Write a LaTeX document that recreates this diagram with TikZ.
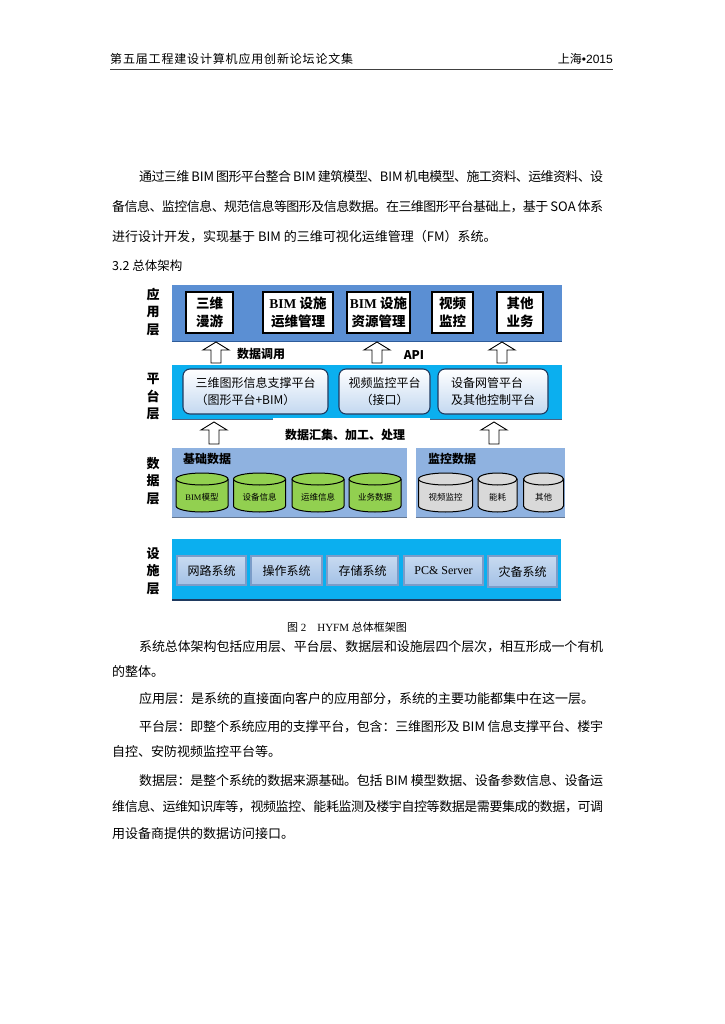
\documentclass[tikz,border=0pt]{standalone}
\usepackage{fontspec}
\setmainfont{Liberation Serif}
\setsansfont{Liberation Sans}
\newfontfamily\cjk{Noto Sans CJK SC}
\ExplSyntaxOn
\bool_new:N \l_spread_first_bool
\NewDocumentCommand \Spread { m m }
 {
  \hbox_to_wd:nn { #1 }
   {
    \bool_set_true:N \l_spread_first_bool
    \tl_map_inline:nn { #2 }
     {
      \bool_if:NF \l_spread_first_bool { \skip_horizontal:n { 0pt plus 1fil minus 2pt } }
      \bool_set_false:N \l_spread_first_bool
      ##1
     }
   }
 }
\ExplSyntaxOff
\definecolor{appblue}{HTML}{5B8FD3}
\definecolor{appedge}{HTML}{2E5C9A}
\definecolor{platcyan}{HTML}{0BAFEF}
\definecolor{datablue}{HTML}{8FB2E0}
\definecolor{cylgreen}{HTML}{92D050}
\definecolor{cylgray}{HTML}{D9D9D9}
\definecolor{navy}{HTML}{1F3A60}
\definecolor{infrafillt}{HTML}{C8DAF0}
\definecolor{infrafillb}{HTML}{A3C1E6}
\definecolor{infraedge}{HTML}{7B9CC8}
\definecolor{platbt}{HTML}{C3D8F0}
\newcommand\BlockUp[3]{% x, y tip, y base
  \draw[blockarr] (#1-5,#3) -- (#1-5,#2+8) -- (#1-13,#2+8) -- (#1,#2) -- (#1+13,#2+8) -- (#1+5,#2+8) -- (#1+5,#3) -- cycle;}
\newcommand\Cyl[5]{% name, cx, half width, colour, text
  \fill[#4] (#2-#3,479) -- (#2-#3,506) arc[start angle=180,end angle=360,x radius=#3pt,y radius=6pt] -- (#2+#3,479) -- cycle;
  \draw[cylline] (#2-#3,479) -- (#2-#3,506) arc[start angle=180,end angle=360,x radius=#3pt,y radius=6pt] -- (#2+#3,479);
  \draw[cylline,fill=#4] (#2,479) ellipse[x radius=#3pt,y radius=6pt];
  \node[cyltext] (#1) at (#2,497) {#5};}
\begin{document}
\begin{tikzpicture}[x=1pt,y=-1pt,
  para/.style={anchor=west,inner sep=0pt,font=\cjk\fontsize{13}{13}\selectfont},
  band/.style={inner sep=0pt,draw=none},
  layerlbl/.style={inner sep=0pt,align=center,font=\cjk\bfseries\fontsize{13}{17.5}\selectfont},
  appbox/.style={draw=black,line width=1.4pt,fill=white,inner sep=0pt,align=center,minimum height=41pt,font=\cjk\bfseries\fontsize{13.5}{18}\selectfont},
  platbox/.style={rounded corners=7pt,draw=navy,line width=1.1pt,top color=white,bottom color=platbt,inner sep=0pt,minimum height=45pt,font=\cjk\fontsize{12}{17}\selectfont},
  infrabox/.style={draw=infraedge,line width=1.2pt,top color=infrafillt,bottom color=infrafillb,inner sep=0pt,minimum height=29pt,font=\cjk\fontsize{12}{12}\selectfont},
  boldlbl/.style={inner sep=0pt,font=\cjk\bfseries\fontsize{12}{12}\selectfont},
  blockarr/.style={draw=black,fill=white,line width=0.9pt,line join=miter},
  cylline/.style={draw=black,line width=1pt},
  cyltext/.style={inner sep=0pt,font=\cjk\fontsize{8.5}{8.5}\selectfont}]
\useasboundingbox[fill=white] (0,0) rectangle (724,1024);

% header
\node[anchor=west,inner sep=0pt,font=\cjk\fontsize{12}{12}\selectfont] (hl) at (110,59) {\Spread{243pt}{第五届工程建设计算机应用创新论坛论文集}};
\node[anchor=east,inner sep=0pt,font=\fontsize{12}{12}\selectfont] (hr) at (613,59) {{\cjk 上海}{\sffamily •2015}};
\draw[line width=1pt,black!75] (110,70) -- (613,70);

% top paragraph
\node[para] (t1) at (139,177) {\Spread{464pt}{通过三维{\ BIM\ }图形平台整合{\ BIM\ }建筑模型、{BIM\ }机电模型、施工资料、运维资料、设}};
\node[para] (t2) at (112,207) {\Spread{491pt}{备信息、监控信息、规范信息等图形及信息数据。在三维图形平台基础上，基于{\ SOA\ }体系}};
\node[para] (t3) at (112,237) {进行设计开发，实现基于 BIM 的三维可视化运维管理（FM）系统。};
\node[para,font=\cjk\fontsize{12.5}{12.5}\selectfont] (t4) at (112,266) {3.2 总体架构};

% ---------- application layer
\node[band,fill=appblue,minimum width=390pt,minimum height=56pt] (appband) at (367,313) {};
\draw[appedge,line width=1.2pt] (appband.south west) -- (appband.south east);
\node[layerlbl] (lapp) at (153,312) {应\\用\\层};
\node[appbox,minimum width=47pt] (a1) at (209.5,312.5) {三维\\漫游};
\node[appbox,minimum width=70pt] (a2) at (298,312.5) {{\rmfamily\bfseries BIM} 设施\\运维管理};
\node[appbox,minimum width=63pt] (a3) at (378.5,312.5) {{\rmfamily\bfseries BIM} 设施\\资源管理};
\node[appbox,minimum width=41pt] (a4) at (452.5,312.5) {视频\\监控};
\node[appbox,minimum width=46pt] (a5) at (520,312.5) {其他\\业务};

% arrows 1
\BlockUp{216}{342}{363}
\BlockUp{377}{342}{363}
\BlockUp{502}{342}{363}
\node[boldlbl] (lcall) at (261,354) {数据调用};
\node[boldlbl] (lapi) at (414,355) {API};

% ---------- platform layer
\node[band,fill=platcyan,minimum width=390pt,minimum height=54pt] (platband) at (367,392) {};
\draw[navy!80,line width=1.2pt] (platband.south west) -- (platband.south east);
\node[layerlbl] (lplat) at (153,397) {平\\台\\层};
\node[platbox,minimum width=145pt,align=left] (p1) at (255.5,391.5) {三维图形信息支撑平台\\（图形平台+BIM）};
\node[platbox,minimum width=91pt,align=center] (p2) at (384.5,391.5) {视频监控平台\\（接口）};
\node[platbox,minimum width=110pt,align=left] (p3) at (493,391.5) {设备网管平台\\及其他控制平台};

% arrows 2
\fill[white] (273,418) rectangle (430,447);
\BlockUp{214}{422}{444}
\BlockUp{494}{422}{444}
\node[boldlbl] (lproc) at (345,435) {数据汇集、加工、处理};

% ---------- data layer
\node[band,fill=datablue,minimum width=235pt,minimum height=69pt] (dband1) at (289.5,482.5) {};
\node[band,fill=datablue,minimum width=149pt,minimum height=69pt] (dband2) at (490.5,482.5) {};
\draw[navy!70,line width=1pt] (dband1.south west) -- (dband1.south east);
\draw[navy!70,line width=1pt] (dband2.south west) -- (dband2.south east);
\node[layerlbl] (ldata) at (153,481) {数\\据\\层};
\node[boldlbl,anchor=west] (lbase) at (183,459) {基础数据};
\node[boldlbl,anchor=west] (lmon) at (428,459) {监控数据};
\Cyl{c1}{202}{26}{cylgreen}{{\rmfamily BIM}模型}
\Cyl{c2}{259.5}{26}{cylgreen}{设备信息}
\Cyl{c3}{318}{26}{cylgreen}{运维信息}
\Cyl{c4}{375}{26}{cylgreen}{业务数据}
\Cyl{c5}{445.5}{27}{cylgray}{视频监控}
\Cyl{c6}{497.5}{19.5}{cylgray}{能耗}
\Cyl{c7}{543.5}{20}{cylgray}{其他}

% ---------- infrastructure layer
\node[band,fill=platcyan,minimum width=389pt,minimum height=61pt] (infband) at (366.5,569.5) {};
\draw[navy,line width=2pt] (infband.south west) -- (infband.south east);
\node[layerlbl] (linf) at (153,571) {设\\施\\层};
\node[infrabox,minimum width=69pt] (i1) at (211.5,570.5) {网路系统};
\node[infrabox,minimum width=71pt] (i2) at (286.5,570.5) {操作系统};
\node[infrabox,minimum width=71pt] (i3) at (362.5,570.5) {存储系统};
\node[infrabox,minimum width=79pt] (i4) at (443.5,570.5) {\rmfamily PC\& Server};
\node[infrabox,minimum width=69pt,minimum height=31pt] (i5) at (522.5,571.5) {灾备系统};

% caption
\node[inner sep=0pt,font=\fontsize{11}{11}\selectfont] (cap) at (347,627) {{\cjk 图} 2\quad HYFM {\cjk 总体框架图}};

% bottom paragraphs
\node[para] (b1) at (139,647) {\Spread{464pt}{系统总体架构包括应用层、平台层、数据层和设施层四个层次，相互形成一个有机}};
\node[para] (b2) at (112,672) {的整体。};
\node[para] (b3) at (139,699) {应用层：是系统的直接面向客户的应用部分，系统的主要功能都集中在这一层。};
\node[para] (b4) at (139,727) {\Spread{464pt}{平台层：即整个系统应用的支撑平台，包含：三维图形及{\ BIM\ }信息支撑平台、楼宇}};
\node[para] (b5) at (112,752) {自控、安防视频监控平台等。};
\node[para] (b6) at (139,781) {\Spread{464pt}{数据层：是整个系统的数据来源基础。包括{\ BIM\ }模型数据、设备参数信息、设备运}};
\node[para] (b7) at (112,807) {\Spread{491pt}{维信息、运维知识库等，视频监控、能耗监测及楼宇自控等数据是需要集成的数据，可调}};
\node[para] (b8) at (112,834) {用设备商提供的数据访问接口。};
\end{tikzpicture}
\end{document}
